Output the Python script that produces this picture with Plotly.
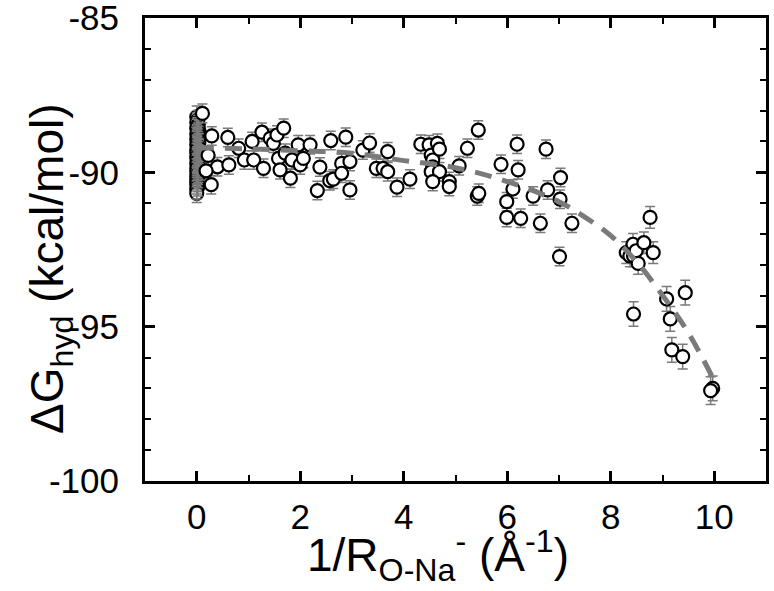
import plotly.graph_objects as go

# points stacked at 1/R ~ 0
cluster_x = [0.0, 0.02, 0.0, 0.03, 0.01, 0.0, 0.04, 0.02, 0.0, 0.03, 0.01, 0.0, 0.02, 0.04, 0.0,
             0.01, 0.03, 0.0, 0.02, 0.0, 0.04, 0.01, 0.0, 0.03, 0.02, 0.0, 0.01, 0.04, 0.0, 0.02,
             0.0, 0.03, 0.01, 0.0, 0.02, 0.0, 0.01, 0.0, 0.02, 0.0, 0.0]
cluster_y = [-88.20, -88.30, -88.38, -88.45, -88.52, -88.58, -88.63, -88.70, -88.76, -88.81,
             -88.87, -88.93, -88.98, -89.04, -89.09, -89.15, -89.20, -89.26, -89.31, -89.37,
             -89.42, -89.48, -89.53, -89.59, -89.64, -89.70, -89.75, -89.81, -89.86, -89.92,
             -89.97, -90.03, -90.08, -90.14, -90.20, -90.27, -90.33, -90.40, -90.47, -90.56, -90.68]
cluster_err = [0.35] + [0.3] * 40

# remaining points
inv_r = [0.11, 0.29, 0.28, 0.40, 0.22, 0.18, 0.60, 0.62, 0.81, 0.92, 1.07, 1.10, 1.26, 1.29,
         1.42, 1.48, 1.55, 1.58, 1.61, 1.68, 1.71, 1.81, 1.84, 1.96, 2.00, 2.06, 2.19, 2.33,
         2.38, 2.57, 2.59, 2.64, 2.80, 2.80, 2.88, 2.96, 2.96, 3.21, 3.34, 3.47, 3.60, 3.69,
         3.69, 3.87, 4.12, 4.33, 4.49, 4.53, 4.56, 4.56, 4.53, 4.65, 4.69, 4.69, 4.56, 4.88,
         4.88, 5.07, 5.23, 5.44, 5.42, 5.45, 5.88, 5.99, 5.99, 6.11, 6.19, 6.21, 6.26, 6.50,
         6.64, 6.75, 6.78, 7.01, 7.02, 7.03, 7.25, 8.30, 8.37, 8.43, 8.44, 8.49, 8.53, 8.64,
         8.76, 8.82, 8.44, 9.08, 9.15, 9.18, 9.39, 9.44, 9.97, 9.93]
dg_hyd = [-88.09, -88.82, -90.40, -89.82, -89.45, -89.95, -88.87, -89.76, -89.22, -89.60,
          -89.00, -89.60, -88.70, -89.87, -88.90, -89.06, -88.79, -89.55, -89.92, -88.57,
          -89.38, -90.19, -89.60, -89.11, -89.76, -89.55, -89.11, -90.59, -89.83, -90.27,
          -88.97, -90.22, -89.71, -90.03, -88.86, -89.65, -90.57, -89.28, -89.05, -89.87,
          -89.87, -89.33, -89.98, -90.48, -90.22, -89.09, -89.11, -89.44, -89.60, -89.82,
          -89.98, -89.06, -89.25, -89.98, -90.30, -90.30, -90.46, -89.79, -89.22, -88.63,
          -90.77, -90.68, -89.74, -90.95, -91.46, -90.54, -89.09, -89.92, -91.49, -90.77,
          -91.65, -89.25, -90.57, -92.73, -90.87, -90.17, -91.65, -92.60, -92.71, -92.33,
          -92.71, -92.54, -92.95, -92.28, -91.46, -92.60, -94.59, -94.10, -94.75, -95.75,
          -95.97, -93.90, -97.00, -97.07]
dg_err = [0.3] * 77 + [0.35] * 9 + [0.4] * 7 + [0.45]

# dashed trend line
fit_x = [0, 1, 2, 3, 4, 5, 6, 7, 7.5, 8, 8.5, 9, 9.5, 10]
fit_y = [-89.2, -89.24, -89.3, -89.38, -89.62, -89.85, -90.3, -90.95, -91.45, -92.05,
         -92.9, -93.98, -95.2, -96.75]

x_ticks = [0, 2, 4, 6, 8, 10]
y_ticks = [-100, -95, -90, -85]
y_labels = ["-100", "-95", "-90", "-85"]

GREY = "#7a7a7a"
FONT = "Liberation Sans, Arial"

fig = go.Figure()
fig.add_trace(go.Scatter(x=cluster_x, y=cluster_y, mode="markers",
                         marker=dict(symbol="circle", size=13, color="white",
                                     line=dict(color="black", width=2.2))))
fig.add_trace(go.Scatter(x=cluster_x, y=cluster_y, mode="markers",
                         marker=dict(size=1, color="rgba(0,0,0,0)"),
                         error_y=dict(type="data", array=cluster_err, color=GREY,
                                      thickness=1.5, width=5)))
fig.add_trace(go.Scatter(x=inv_r, y=dg_hyd, mode="markers",
                         marker=dict(symbol="circle", size=13, color="white",
                                     line=dict(color="black", width=2.2)),
                         error_y=dict(type="data", array=dg_err, color=GREY,
                                      thickness=1.5, width=5)))
fig.add_trace(go.Scatter(x=fit_x, y=fit_y, mode="lines",
                         line=dict(color=GREY, width=5, dash="17px,11px", shape="spline")))

axis_common = dict(showline=True, linecolor="black", linewidth=3, mirror="allticks",
                   ticks="inside", ticklen=10, tickwidth=3, tickcolor="black",
                   showgrid=False, zeroline=False, automargin=False,
                   ticklabeloverflow="allow",
                   tickfont=dict(family=FONT, size=35, color="black"))

fig.update_layout(
    width=774, height=591,
    margin=dict(l=145, r=8, t=18, b=110),
    plot_bgcolor="white", paper_bgcolor="white",
    showlegend=False,
    xaxis=dict(range=[-1, 11], tickvals=x_ticks, ticklabelstandoff=3,
               minor=dict(dtick=1, ticks="inside", ticklen=6, tickwidth=2, tickcolor="black"),
               **axis_common),
    yaxis=dict(range=[-100, -85], tickvals=y_ticks, ticktext=y_labels, ticklabelstandoff=16,
               minor=dict(dtick=1, ticks="inside", ticklen=6, tickwidth=2, tickcolor="black"),
               **axis_common),
    annotations=[
        dict(text="1/R<sub>O-Na</sub><sup>-</sup> (Å<sup>-1</sup>)", xref="paper", yref="paper",
             x=0.472, y=-0.16, xanchor="center", yanchor="middle", showarrow=False,
             font=dict(family=FONT, size=46, color="black")),
        dict(text="ΔG<sub>hyd</sub> (kcal/mol)", xref="paper", yref="paper",
             x=-0.153, y=0.46, xanchor="center", yanchor="middle", showarrow=False,
             textangle=-90, font=dict(family=FONT, size=46, color="black")),
    ],
)

fig.write_html("out.html", config={"displayModeBar": False},
               post_script="document.body.style.margin='0';")
